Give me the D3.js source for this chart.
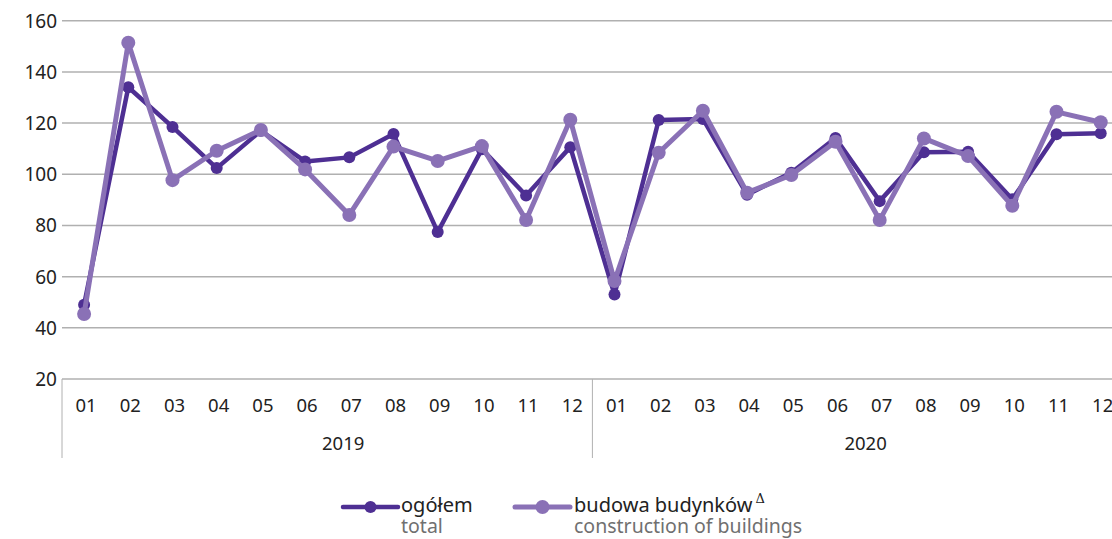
<!DOCTYPE html>
<html><head><meta charset="utf-8">
<script src="https://cdn.jsdelivr.net/npm/d3@7"></script>
<style>body{margin:0;background:#fff;overflow:hidden}svg{display:block}text{font-family:"Noto Sans",sans-serif}</style>
</head><body><svg id="c" width="1112" height="539"></svg>
<script>
const months = ["01","02","03","04","05","06","07","08","09","10","11","12"];
const years = ["2019","2020"];
const categories = years.flatMap(y => months.map(m => y + "-" + m));
const ogolem = [49,134,118.5,102.4,117,105,106.6,115.7,77.4,109.8,91.7,110.6,
                53,121.2,121.6,92,100.6,114.2,89.5,108.6,108.8,90.2,115.6,116];
const budowa = [45.4,151.4,97.7,109.2,117.3,101.9,84.1,110.8,105.2,111,82.1,121.3,
                58.3,108.4,124.8,92.8,99.7,112.7,82.1,114,107.1,87.7,124.4,120.3];
const yTicks = [20,40,60,80,100,120,140,160];
const seriesNames = [["ogółem","total"],["budowa budynków","construction of buildings"]];
const colors = ["#4e2f93","#8a71b6"];

const svg = d3.select("#c");
const left = 62, step = 44.2;
const x = d3.scaleBand().domain(categories).range([left, left + step*categories.length]);
const y = d3.scaleLinear().domain([20,160]).range([379,20.7]);

// grid
svg.append("g").selectAll("line").data(yTicks.filter(d=>d>20)).join("line")
  .attr("x1",left).attr("x2",1112).attr("y1",d=>y(d)).attr("y2",d=>y(d))
  .attr("stroke","#b0b0b0").attr("stroke-width",1.5);
// y labels
svg.append("g").selectAll("text").data(yTicks).join("text")
  .attr("x",57).attr("y",d=>y(d)+7).attr("text-anchor","end")
  .attr("font-size",19).attr("fill","#222").text(d=>d);
// x baseline
svg.append("line").attr("x1",left).attr("x2",1112).attr("y1",y(20)).attr("y2",y(20))
  .attr("stroke","#b0b0b0").attr("stroke-width",1.5);
// separators
[0,12].forEach(i=>{
  const xx = x(categories[i]);
  svg.append("line").attr("x1",xx).attr("x2",xx).attr("y1",y(20)).attr("y2",458)
    .attr("stroke","#b0b0b0").attr("stroke-width",1);
});
// month labels
svg.append("g").selectAll("text").data(categories).join("text")
  .attr("x",d=>x(d)+x.bandwidth()/2+2).attr("y",412).attr("text-anchor","middle")
  .attr("font-size",18.5).attr("fill","#222").text(d=>d.split("-")[1]);
// year labels
const yearOffset = [16, 8];
svg.append("g").selectAll("text").data(years).join("text")
  .attr("x",(d,i)=>x(categories[i*12]) + 6*step + yearOffset[i]).attr("y",450).attr("text-anchor","middle")
  .attr("font-size",18.5).attr("fill","#222").text(d=>d);

const cx = d => x(d)+x.bandwidth()/2;
const line = d3.line().x((d,i)=>cx(categories[i])).y(d=>y(d));
[{v:ogolem,c:colors[0],w:4.5,r:6},{v:budowa,c:colors[1],w:5,r:7}].forEach(s=>{
  svg.append("path").datum(s.v).attr("d",line).attr("fill","none")
    .attr("stroke",s.c).attr("stroke-width",s.w).attr("stroke-linejoin","round");
  svg.append("g").selectAll("circle").data(s.v).join("circle")
    .attr("cx",(d,i)=>cx(categories[i])).attr("cy",d=>y(d)).attr("r",s.r).attr("fill",s.c);
});

// legend
const leg = [{x0:343,x1:398,tx:401,c:colors[0],w:4.5,r:6},{x0:515,x1:570,tx:574,c:colors[1],w:5,r:7}];
leg.forEach((l,i)=>{
  const g = svg.append("g");
  g.append("line").attr("x1",l.x0).attr("x2",l.x1).attr("y1",507).attr("y2",507)
    .attr("stroke",l.c).attr("stroke-width",l.w).attr("stroke-linecap","round");
  g.append("circle").attr("cx",(l.x0+l.x1)/2).attr("cy",507).attr("r",l.r).attr("fill",l.c);
  const t = g.append("text").attr("x",l.tx).attr("y",512).attr("font-size",20).attr("fill","#222")
    .text(seriesNames[i][0]);
  if(i===1) t.append("tspan").attr("dy",-9).attr("dx",3).attr("font-size",13).attr("font-family","DejaVu Serif").text("Δ");
  g.append("text").attr("x",l.tx).attr("y",533).attr("font-size",19.5).attr("fill","#707070")
    .text(seriesNames[i][1]);
});
</script></body></html>
